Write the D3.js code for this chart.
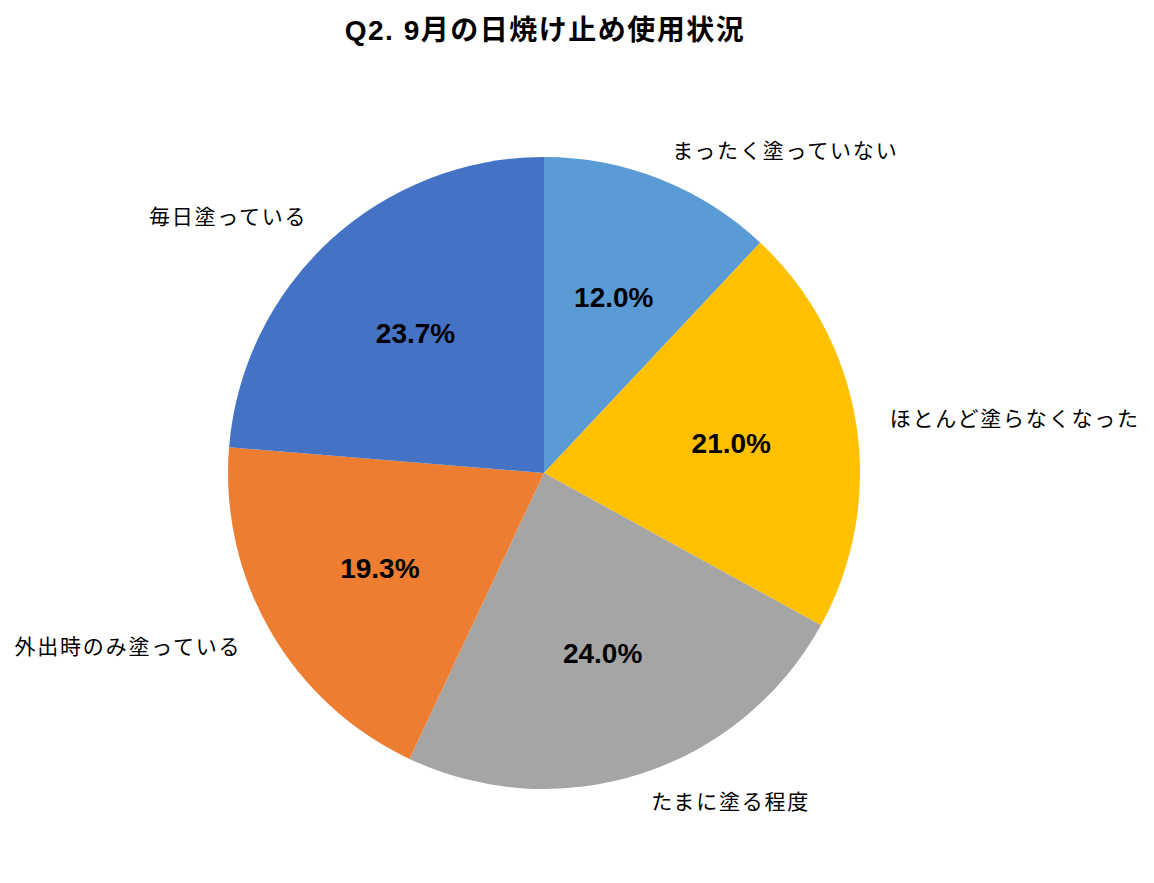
<!DOCTYPE html>
<html lang="ja">
<head>
<meta charset="UTF-8">
<title>Q2. 9月の日焼け止め使用状況</title>
<script src="https://cdn.jsdelivr.net/npm/d3@7/dist/d3.min.js"></script>
<style>
  body { margin: 0; background: #fff; }
  svg text { font-family: "Liberation Sans", "Noto Sans CJK JP", sans-serif; }
  .title { font-size: 28px; font-weight: bold; letter-spacing: 1.5px; }
  .cat { font-size: 21px; letter-spacing: 1.8px; }
  .pct { font-size: 28px; font-weight: bold; }
</style>
</head>
<body>
<div id="chart"></div>
<script>
// data, clockwise from 12 o'clock
var categories = ['まったく塗っていない', 'ほとんど塗らなくなった', 'たまに塗る程度', '外出時のみ塗っている', '毎日塗っている'];
var values = [12.0, 21.0, 24.0, 19.3, 23.7];
var colors = ['#5b9bd5', '#ffc000', '#a5a5a5', '#ed7d31', '#4472c4'];

// where the category labels sit (angle in degrees from top, distance from centre)
var labelPos = [
  { a: 36.8, r: 403, anchor: 'middle' },
  { a: 81.0, r: 350, anchor: 'start' },
  { a: 150.4, r: 378, anchor: 'middle' },
  { a: 247.3, r: 451, anchor: 'middle' },
  { a: 309.1, r: 407, anchor: 'middle' }
];

var width = 1154, height = 883;
var cx = 544, cy = 473, radius = 316;

var svg = d3.select('#chart').append('svg')
  .attr('width', width)
  .attr('height', height);

svg.append('text')
  .attr('class', 'title')
  .attr('x', 545)
  .attr('y', 40)
  .attr('text-anchor', 'middle')
  .text('Q2. 9月の日焼け止め使用状況');

var data = categories.map(function(c, i) { return { cat: c, value: values[i], color: colors[i], i: i }; });

var pie = d3.pie().sort(null).value(function(d) { return d.value; });
var arc = d3.arc().innerRadius(0).outerRadius(radius);
var labelArc = d3.arc().innerRadius(radius * 0.6).outerRadius(radius * 0.6);

var g = svg.append('g').attr('transform', 'translate(' + cx + ',' + cy + ')');
var arcs = pie(data);

g.selectAll('path.slice').data(arcs).enter().append('path')
  .attr('class', 'slice')
  .attr('d', arc)
  .attr('fill', function(d) { return d.data.color; });

g.selectAll('text.pct').data(arcs).enter().append('text')
  .attr('class', 'pct')
  .attr('transform', function(d) { return 'translate(' + labelArc.centroid(d) + ')'; })
  .attr('text-anchor', 'middle')
  .attr('dy', '0.35em')
  .text(function(d) { return d.data.value.toFixed(1) + '%'; });

g.selectAll('text.cat').data(arcs).enter().append('text')
  .attr('class', 'cat')
  .attr('x', function(d) { var p = labelPos[d.data.i]; return p.r * Math.sin(p.a * Math.PI / 180); })
  .attr('y', function(d) { var p = labelPos[d.data.i]; return -p.r * Math.cos(p.a * Math.PI / 180); })
  .attr('dy', '0.35em')
  .attr('text-anchor', function(d) { return labelPos[d.data.i].anchor; })
  .text(function(d) { return d.data.cat; });
</script>
</body>
</html>
